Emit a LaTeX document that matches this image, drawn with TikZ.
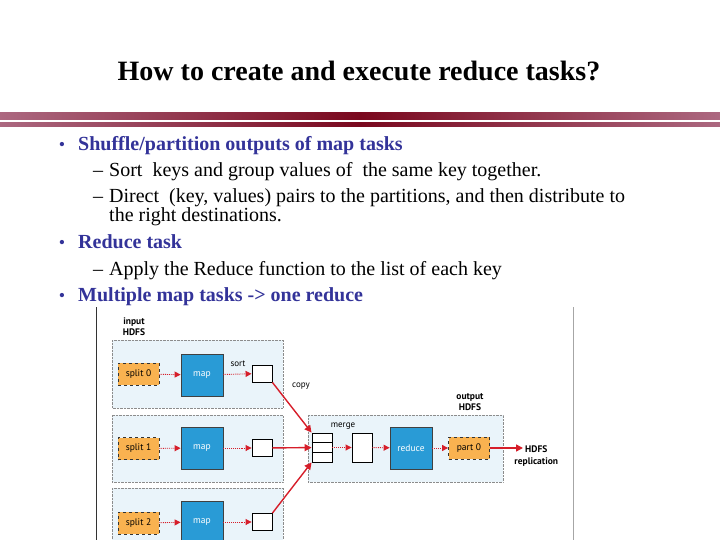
\documentclass[tikz,border=0pt]{standalone}
\usepackage{fontspec}
\setmainfont{Liberation Serif}
\newfontfamily\figfont{PT Sans}
\usetikzlibrary{arrows.meta,calc}
\definecolor{slideblue}{RGB}{51,51,153}
\definecolor{rulemid}{RGB}{122,8,30}
\definecolor{ruleend}{RGB}{172,104,128}
\definecolor{mapblue}{RGB}{41,155,214}
\definecolor{splitorange}{RGB}{249,178,80}
\definecolor{panelblue}{RGB}{234,244,250}
\definecolor{flowred}{RGB}{214,30,42}
\tikzset{
	panel/.style={draw=black!45, densely dotted, fill=panelblue},
	maptask/.style={draw=black!75, line width=0.8, fill=mapblue, text=white, minimum width=42, minimum height=42, inner sep=0, font=\figfont\fontsize{9.5}{10}\selectfont},
	splitbox/.style={draw=black!80, dashed, line width=0.8, fill=splitorange, minimum width=41, minimum height=22, inner sep=0, font=\figfont\fontsize{9.5}{10}\selectfont},
	buffer/.style={draw=black, line width=0.9, fill=white, minimum width=20, minimum height=17, inner sep=0},
	figtext/.style={font=\figfont\fontsize{9}{10}\selectfont, inner sep=0, align=center},
	figbold/.style={figtext, font=\figfont\bfseries\fontsize{9.5}{11}\selectfont},
	dotflow/.style={draw=flowred, densely dotted, line width=0.9, -{Triangle[length=6,width=6]}},
	copyflow/.style={draw=flowred, line width=1.4, -{Triangle[length=7,width=7]}},
	slidetext/.style={anchor=base west, inner sep=0, font=\fontsize{20}{21}\selectfont},
	headline/.style={anchor=base west, inner sep=0, text=slideblue, font=\bfseries\fontsize{20}{21}\selectfont},
	dot/.style={anchor=base, inner sep=0, text=slideblue, font=\fontsize{18}{18}\selectfont},
}

\begin{document}
\begin{tikzpicture}[x=1pt, y=-1pt]
		%%%%% START %%%%%
		\useasboundingbox (0, 0) rectangle (720, 540);
		\clip (0, 0) rectangle (720, 540);
		
		\node[font=\bfseries\fontsize{28}{32}\selectfont] (title) at (359, 71) {How to create and execute reduce tasks?};
		
		\shade[left color=ruleend, right color=ruleend, middle color=rulemid] (0, 113) rectangle (720, 120);
		\shade[left color=ruleend, right color=ruleend, middle color=rulemid] (0, 122.5) rectangle (720, 127);
		
		\node[dot] (dot1) at (62, 151) {\textbullet};
		\node[headline] (shuffle) at (78, 151) {Shuffle/partition outputs of map tasks};
		\node[slidetext] (dash1) at (93, 177) {--};
		\node[slidetext] (sortkeys) at (109, 177) {Sort \ keys and group values of \ the same key together.};
		\node[slidetext] (dash2) at (93, 203) {--};
		\node[slidetext] (direct) at (109, 203) {Direct \ (key, values) pairs to the partitions, and then distribute to};
		\node[slidetext] (direct2) at (109, 222) {the right destinations.};
		\node[dot] (dot2) at (62, 248) {\textbullet};
		\node[headline] (reducetask) at (78, 248) {Reduce task};
		\node[slidetext] (dash3) at (93, 275) {--};
		\node[slidetext] (apply) at (109, 275) {Apply the Reduce function to the list of each key};
		\node[dot] (dot3) at (62, 301) {\textbullet};
		\node[headline] (multiple) at (78, 301) {Multiple map tasks -> one reduce};
		
		\draw[black!80, line width=0.8] (96, 307) -- (96, 540);
		\draw[black!35, line width=0.8] (573, 307) -- (573, 540);
		
		\draw[panel] (112, 340) rectangle (283, 408);
		\draw[panel] (112, 415) rectangle (283, 482);
		\draw[panel] (112, 488) rectangle (283, 556);
		\draw[panel] (308, 415) rectangle (503, 482);
		
		\node[figbold] (input) at (134, 327) {input\\HDFS};
		\node[figbold] (output) at (470, 402) {output\\HDFS};
		
		\node[splitbox] (split0) at (138.5, 374) {split 0};
		\node[maptask] (map0) at (202, 375) {map};
		\node[buffer] (buf0) at (262, 373.5) {};
		\node[figtext] (sort) at (238, 364) {sort};
		\node[figtext] (copy) at (301, 386) {copy};
		
		\node[splitbox] (split1) at (138.5, 448.5) {split 1};
		\node[maptask] (map1) at (202, 448) {map};
		\node[buffer] (buf1) at (262, 448) {};
		
		\node[splitbox] (split2) at (138.5, 523) {split 2};
		\node[maptask] (map2) at (202, 522) {map};
		\node[buffer] (buf2) at (262, 522) {};
		
		\node[buffer, minimum height=29] (mergein) at (322, 447.5) {};
		\draw[line width=0.9] ($(mergein.north west)!1/3!(mergein.south west)$) -- ($(mergein.north east)!1/3!(mergein.south east)$);
		\draw[line width=0.9] ($(mergein.north west)!2/3!(mergein.south west)$) -- ($(mergein.north east)!2/3!(mergein.south east)$);
		\node[figtext] (merge) at (343, 426) {merge};
		\node[buffer, minimum height=29] (mergeout) at (362, 447.5) {};
		\node[maptask] (reduce) at (411, 448) {reduce};
		\node[splitbox] (part0) at (469, 448) {part 0};
		\node[figbold, anchor=west] (hdfsout) at (525, 449) {HDFS};
		\node[figbold] (replic) at (hdfsout.south |- 0, 462) {replication};
		
		\draw[dotflow] (split0) -- (map0);
		\draw[dotflow] (map0) -- (buf0);
		\draw[dotflow] (split1) -- (map1);
		\draw[dotflow] (map1) -- (buf1);
		\draw[dotflow] (split2) -- (map2);
		\draw[dotflow] (map2) -- (buf2);
		\draw[dotflow] (mergein) -- (mergeout);
		\draw[dotflow] (mergeout) -- (reduce);
		\draw[dotflow] (reduce) -- (part0);
		
		\draw[copyflow] (buf0.south east) -- (mergein.north west);
		\draw[copyflow] (buf1) -- (mergein);
		\draw[copyflow] (buf2.north east) -- (mergein.south west);
		\draw[copyflow, shorten >=2] (part0) -- (hdfsout.west |- part0);
		
		%%%%% END %%%%%
\end{tikzpicture}
\end{document}
